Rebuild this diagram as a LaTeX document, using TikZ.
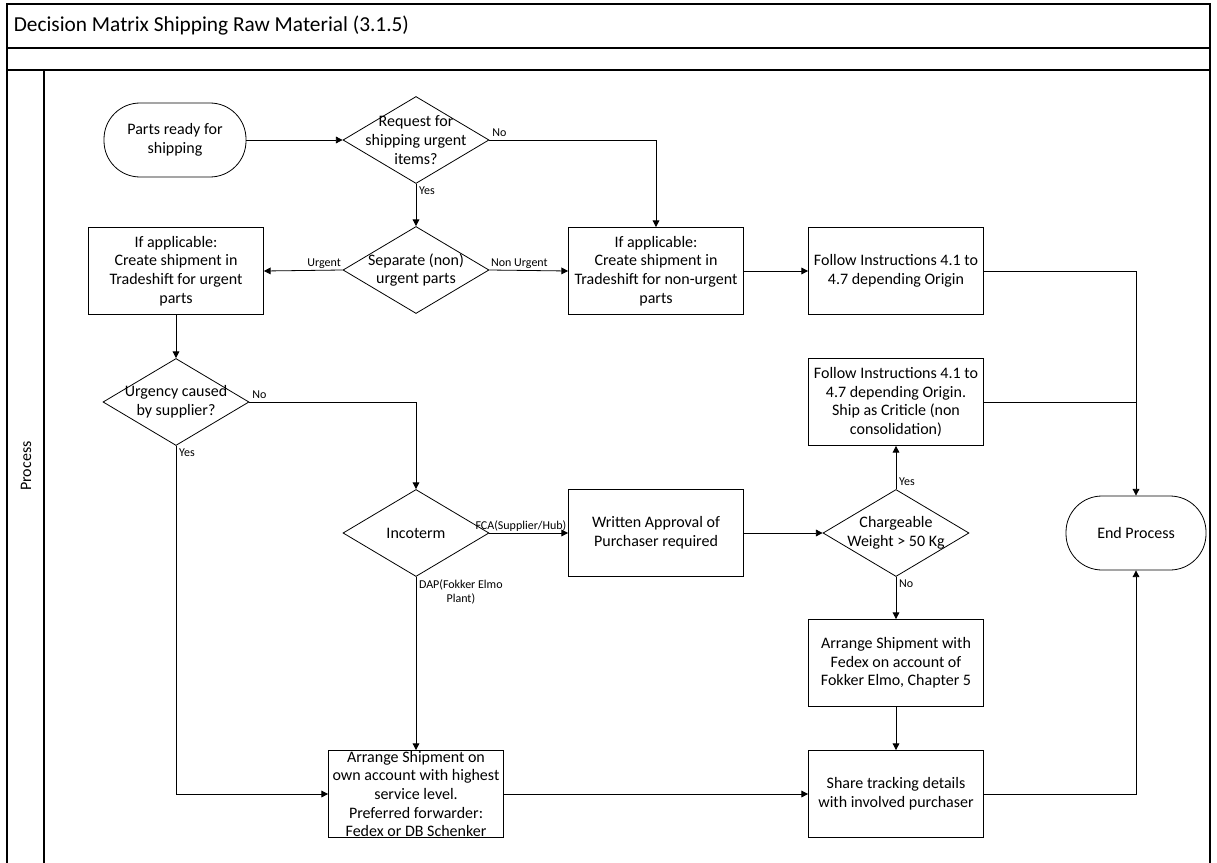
\documentclass[tikz,border=0pt]{standalone}
\usepackage{fontspec}
\setmainfont{Carlito}
\usetikzlibrary{shapes.geometric,arrows.meta}

\begin{document}
\begin{tikzpicture}[x=0.75pt, y=-0.75pt, line width=0.6pt,
  every node/.style={font=\fontsize{12}{14}\selectfont},
  box/.style={draw, minimum width=131.25pt, minimum height=65.25pt, align=center, inner sep=0pt},
  term/.style={draw, rounded corners=27pt, minimum width=106.5pt, minimum height=55.5pt, align=center},
  dec/.style={diamond, draw, minimum width=109.5pt, minimum height=65.25pt, inner sep=0pt},
  lab/.style={font=\fontsize{9}{10.5}\selectfont, inner sep=2pt},
  flow/.style={-{Triangle[length=5pt,width=5pt]}}]
\useasboundingbox (0,0) rectangle (1217,863);
\draw[line width=1.2pt] (7,863) -- (7,4) -- (1210,4) -- (1210,863);
\draw[line width=1.2pt] (7,48) -- (1210,48) (7,70) -- (1210,70) (44,70) -- (44,863);
\node[anchor=west, font=\fontsize{16}{18}\selectfont] (title) at (9,26) {Decision Matrix Shipping Raw Material (3.1.5)};
\node[rotate=90] (lane) at (26,466) {Process};

\node[term] (start) at (175,140) {Parts ready for\\shipping};
\node[dec, label={[align=center]center:Request for\\shipping urgent\\items?}] (d1) at (416,140) {};
\node[dec, label={[align=center]center:Separate (non)\\urgent parts}] (d2) at (416,270) {};
\node[box] (urgent) at (176,271) {If applicable:\\Create shipment in\\Tradeshift for urgent\\parts};
\node[box] (nonurg) at (656,271) {If applicable:\\Create shipment in\\Tradeshift for non-urgent\\parts};
\node[box] (follow1) at (896,271) {Follow Instructions 4.1 to\\4.7 depending Origin};
\node[dec, label={[align=center]center:Urgency caused\\by supplier?}] (d3) at (176,402) {};
\node[box] (follow2) at (896,402) {Follow Instructions 4.1 to\\4.7 depending Origin.\\Ship as Criticle (non\\consolidation)};
\node[dec, label={[align=center]center:Incoterm}] (d4) at (416,533) {};
\node[box] (approval) at (656,533) {Written Approval of\\Purchaser required};
\node[dec, label={[align=center]center:Chargeable\\Weight > 50 Kg}] (d5) at (896,533) {};
\node[term, minimum width=105pt] (endp) at (1136,533) {End Process};
\node[box] (fedex) at (896,663) {Arrange Shipment with\\Fedex on account of\\Fokker Elmo, Chapter 5};
\node[box] (own) at (416,794) {Arrange Shipment on\\own account with highest\\service level.\\Preferred forwarder:\\Fedex or DB Schenker};
\node[box] (share) at (896,794) {Share tracking details\\with involved purchaser};

\draw[flow] (start) -- (d1.west);
\draw[flow] (d1.east) -| (nonurg.north) node[lab, pos=0, above right] {No};
\draw[flow] (d1.south) -- (d2.north) node[lab, pos=0, below right] {Yes};
\draw[flow] (d2.west) -- (urgent.east) node[lab, pos=0, above left, inner sep=1pt] {Urgent};
\draw[flow] (d2.east) -- (nonurg.west) node[lab, pos=0, above right, inner sep=1pt] {Non Urgent};
\draw[flow] (nonurg) -- (follow1);
\draw[flow] (follow1.east) -| (endp.north);
\draw (follow2.east) -- (follow2.east -| endp.north);
\draw[flow] (urgent) -- (d3.north);
\draw[flow] (d3.east) -| (d4.north) node[lab, pos=0, above right] {No};
\draw[flow] (d3.south) |- (own.west) node[lab, pos=0, below right] {Yes};
\draw[flow] (d4.east) -- (approval.west) node[lab, pos=1, above left, inner sep=1pt] {FCA(Supplier/Hub)};
\draw[flow] (d4.south) -- (own.north) node[lab, pos=0, below right, align=center] {DAP(Fokker Elmo\\Plant)};
\draw[flow] (approval) -- (d5.west);
\draw[flow] (d5.north) -- (follow2.south) node[lab, pos=0, above right] {Yes};
\draw[flow] (d5.south) -- (fedex.north) node[lab, pos=0, below right] {No};
\draw[flow] (fedex) -- (share);
\draw[flow] (own) -- (share);
\draw[flow] (share.east) -| (endp.south);
\end{tikzpicture}
\end{document}
